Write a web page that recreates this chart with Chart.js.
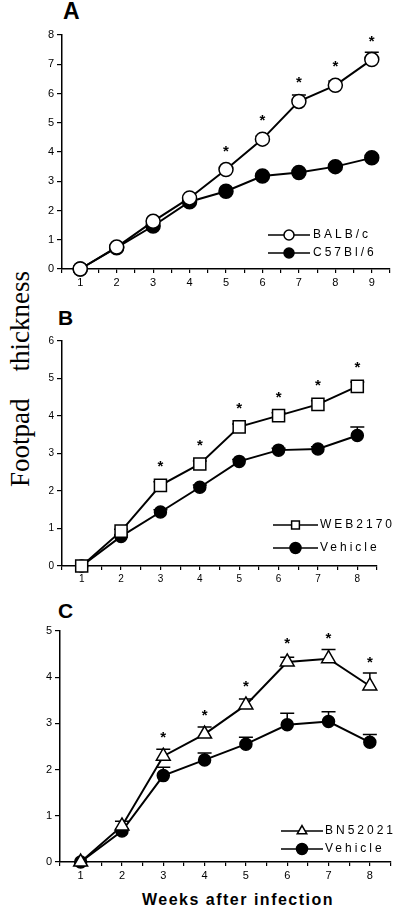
<!DOCTYPE html>
<html>
<head>
<meta charset="utf-8">
<script src="https://cdn.jsdelivr.net/npm/chart.js@4.4.0/dist/chart.umd.min.js"></script>
<style>
  body { margin: 0; background: #fff; width: 400px; height: 911px; position: relative; overflow: hidden; font-family: Arial, "Liberation Sans", sans-serif; }
  canvas { position: absolute; left: 0; }
  .panel { position: absolute; font-weight: bold; line-height: 1; color: #000; }
  #ytitle { position: absolute; left: 20px; top: 379px; font-family: "Liberation Serif", "DejaVu Serif", serif; font-size: 27px; line-height: 1; white-space: pre; transform: translate(-50%, -50%) rotate(-90deg); }
  #xtitle { position: absolute; left: 238px; top: 892px; font-size: 16px; line-height: 1; font-weight: bold; letter-spacing: 1.5px; white-space: nowrap; transform: translateX(-50%); }
</style>
</head>
<body>
<div class="panel" style="left:63px;top:0px;font-size:23px">A</div>
<div class="panel" style="left:58px;top:307px;font-size:21px">B</div>
<div class="panel" style="left:58px;top:600px;font-size:21px">C</div>
<div id="ytitle">Footpad    thickness</div>
<div id="xtitle">Weeks after infection</div>

<canvas id="chartA" width="400" height="290" style="top:0px"></canvas>
<canvas id="chartB" width="400" height="300" style="top:290px"></canvas>
<canvas id="chartC" width="400" height="321" style="top:590px"></canvas>

<script>
// Panel A
const weeksA = [1, 2, 3, 4, 5, 6, 7, 8, 9];
const balbc = [0, 0.75, 1.63, 2.43, 3.4, 4.44, 5.73, 6.28, 7.16];
const balbcErr = [0, 0.05, 0.06, 0.05, 0.08, 0.1, 0.22, 0.15, 0.25];
const c57bl6 = [0, 0.73, 1.47, 2.3, 2.66, 3.18, 3.3, 3.5, 3.8];
const c57bl6Err = [0, 0.04, 0.05, 0.05, 0.06, 0.06, 0.05, 0.07, 0.08];
const starsA = [0, 0, 0, 0, 1, 1, 1, 1, 1];

// Panel B
const weeksB = [1, 2, 3, 4, 5, 6, 7, 8];
const web2170 = [0, 0.93, 2.15, 2.72, 3.71, 4.01, 4.31, 4.79];
const web2170Err = [0, 0.05, 0.1, 0.08, 0.08, 0.08, 0.1, 0.12];
const vehicleB = [0, 0.79, 1.44, 2.1, 2.79, 3.09, 3.12, 3.48];
const vehicleBErr = [0, 0.04, 0.06, 0.06, 0.05, 0.05, 0.06, 0.23];
const starsB = [0, 0, 1, 1, 1, 1, 1, 1];

// Panel C
const weeksC = [1, 2, 3, 4, 5, 6, 7, 8];
const bn52021 = [0, 0.78, 2.29, 2.77, 3.4, 4.33, 4.4, 3.81];
const bn52021Err = [0, 0.1, 0.15, 0.15, 0.13, 0.1, 0.2, 0.28];
const vehicleC = [0, 0.67, 1.87, 2.21, 2.55, 2.97, 3.04, 2.59];
const vehicleCErr = [0, 0.05, 0.18, 0.15, 0.15, 0.25, 0.21, 0.17];
const starsC = [0, 0, 1, 1, 1, 1, 1, 1];

const toPoints = (xs, ys) => xs.map((x, i) => ({ x: x, y: ys[i] }));

// barres d'erreur (seulement vers le haut, avec un petit chapeau)
const errorBars = {
  id: 'errorBars',
  beforeDatasetsDraw(chart) {
    const ctx = chart.ctx;
    const yScale = chart.scales.y;
    chart.data.datasets.forEach((ds, di) => {
      if (!ds.errUp) return;
      const meta = chart.getDatasetMeta(di);
      ctx.save();
      ctx.strokeStyle = '#000';
      ctx.lineWidth = 1.5;
      meta.data.forEach((pt, i) => {
        const e = ds.errUp[i];
        if (!e) return;
        const top = yScale.getPixelForValue(ds.data[i].y + e);
        ctx.beginPath();
        ctx.moveTo(pt.x, pt.y);
        ctx.lineTo(pt.x, top);
        ctx.moveTo(pt.x - 7, top);
        ctx.lineTo(pt.x + 7, top);
        ctx.stroke();
      });
      ctx.restore();
    });
  },
  afterDatasetsDraw(chart) {
    const ctx = chart.ctx;
    const yScale = chart.scales.y;
    chart.data.datasets.forEach((ds, di) => {
      if (!ds.stars) return;
      const meta = chart.getDatasetMeta(di);
      ctx.save();
      ctx.fillStyle = '#000';
      ctx.font = 'bold 15px Arial, "Liberation Sans", sans-serif';
      ctx.textAlign = 'center';
      ctx.textBaseline = 'alphabetic';
      meta.data.forEach((pt, i) => {
        if (!ds.stars[i]) return;
        const top = yScale.getPixelForValue(ds.data[i].y + (ds.errUp ? ds.errUp[i] : 0));
        const cy = Math.min(top, pt.y - 8) - 15;
        ctx.fillText('*', pt.x, cy + 9);
      });
      ctx.restore();
    });
  }
};

// légende dessinée à la main
const handLegend = {
  id: 'handLegend',
  afterDraw(chart, args, opts) {
    if (!opts || !opts.rows) return;
    const ctx = chart.ctx;
    ctx.save();
    chart.data.datasets.forEach((ds, i) => {
      const y = opts.rows[i];
      ctx.strokeStyle = '#000';
      ctx.lineWidth = 1.5;
      ctx.beginPath();
      ctx.moveTo(opts.x0, y);
      ctx.lineTo(opts.x1, y);
      ctx.stroke();
      ctx.fillStyle = ds.pointBackgroundColor;
      ctx.strokeStyle = '#000';
      ctx.lineWidth = 1.5;
      Chart.helpers.drawPoint(ctx, { pointStyle: ds.pointStyle, radius: opts.r, rotation: 0, borderWidth: 1.5 }, (opts.x0 + opts.x1) / 2, y);
      ctx.fillStyle = '#000';
      ctx.font = '12px Arial, "Liberation Sans", sans-serif';
      ctx.letterSpacing = '3px';
      ctx.textAlign = 'left';
      ctx.textBaseline = 'middle';
      ctx.fillText(ds.label, opts.tx, y);
    });
    ctx.restore();
  }
};

function makeDataset(label, xs, ys, errs, style, fill, radius, stars) {
  return {
    label: label,
    data: toPoints(xs, ys),
    errUp: errs,
    stars: stars,
    borderColor: '#000',
    borderWidth: 2,
    pointStyle: style,
    pointRadius: radius,
    pointBackgroundColor: fill,
    pointBorderColor: '#000',
    pointBorderWidth: 1.5,
    tension: 0,
    clip: false
  };
}

function makeChart(id, datasets, nWeeks, yMax, box, legend, fontSize) {
  const halves = [];
  for (let v = 0.5; v <= nWeeks + 0.5001; v += 0.5) halves.push({ value: v });
  return new Chart(document.getElementById(id), {
    type: 'line',
    data: { datasets: datasets },
    options: {
      responsive: false,
      animation: false,
      layout: { padding: { top: box.top, right: box.right, left: 0, bottom: 0 } },
      plugins: { legend: { display: false }, tooltip: { enabled: false }, handLegend: legend },
      scales: {
        x: {
          type: 'linear',
          min: 0.5,
          max: nWeeks + 0.5,
          afterBuildTicks: s => { s.ticks = halves.map(t => ({ value: t.value })); },
          afterFit: s => { s.height = box.xh; },
          ticks: {
            callback: v => Number.isInteger(v) ? String(v) : '',
            autoSkip: false, maxRotation: 0, color: '#000', padding: 3,
            font: { size: fontSize, family: 'Arial, "Liberation Sans", sans-serif' }
          },
          grid: { display: true, drawOnChartArea: false, drawTicks: true, tickLength: 4, color: '#000', lineWidth: 1.2 },
          border: { color: '#000', width: 1.5 }
        },
        y: {
          min: 0,
          max: yMax,
          afterFit: s => { s.width = box.left; },
          ticks: {
            stepSize: 1, color: '#000', padding: 3,
            font: { size: fontSize, family: 'Arial, "Liberation Sans", sans-serif' }
          },
          grid: { display: true, drawOnChartArea: false, drawTicks: true, tickLength: 5, color: '#000', lineWidth: 1.2 },
          border: { color: '#000', width: 1.5 }
        }
      }
    },
    plugins: [errorBars, handLegend]
  });
}

makeChart('chartA', [
  makeDataset('BALB/c', weeksA, balbc, balbcErr, 'circle', '#fff', 7, starsA),
  makeDataset('C57Bl/6', weeksA, c57bl6, c57bl6Err, 'circle', '#000', 7, null)
], 9, 8, { top: 35, right: 10, left: 62, xh: 21 }, { x0: 268, x1: 310, tx: 313, rows: [235, 253], r: 5 }, 11);

makeChart('chartB', [
  makeDataset('WEB2170', weeksB, web2170, web2170Err, 'rect', '#fff', 8.5, starsB),
  makeDataset('Vehicle', weeksB, vehicleB, vehicleBErr, 'circle', '#000', 6, null)
], 8, 6, { top: 51, right: 23, left: 62, xh: 24 }, { x0: 273, x1: 318, tx: 320, rows: [235, 258], r: 5.5 }, 10);

makeChart('chartC', [
  makeDataset('BN52021', weeksC, bn52021, bn52021Err, 'triangle', '#fff', 8, starsC),
  makeDataset('Vehicle', weeksC, vehicleC, vehicleCErr, 'circle', '#000', 6, null)
], 8, 5, { top: 41, right: 6, left: 60, xh: 49 }, { x0: 281, x1: 323, tx: 325, rows: [241, 259], r: 5.5 }, 11);
</script>
</body>
</html>
